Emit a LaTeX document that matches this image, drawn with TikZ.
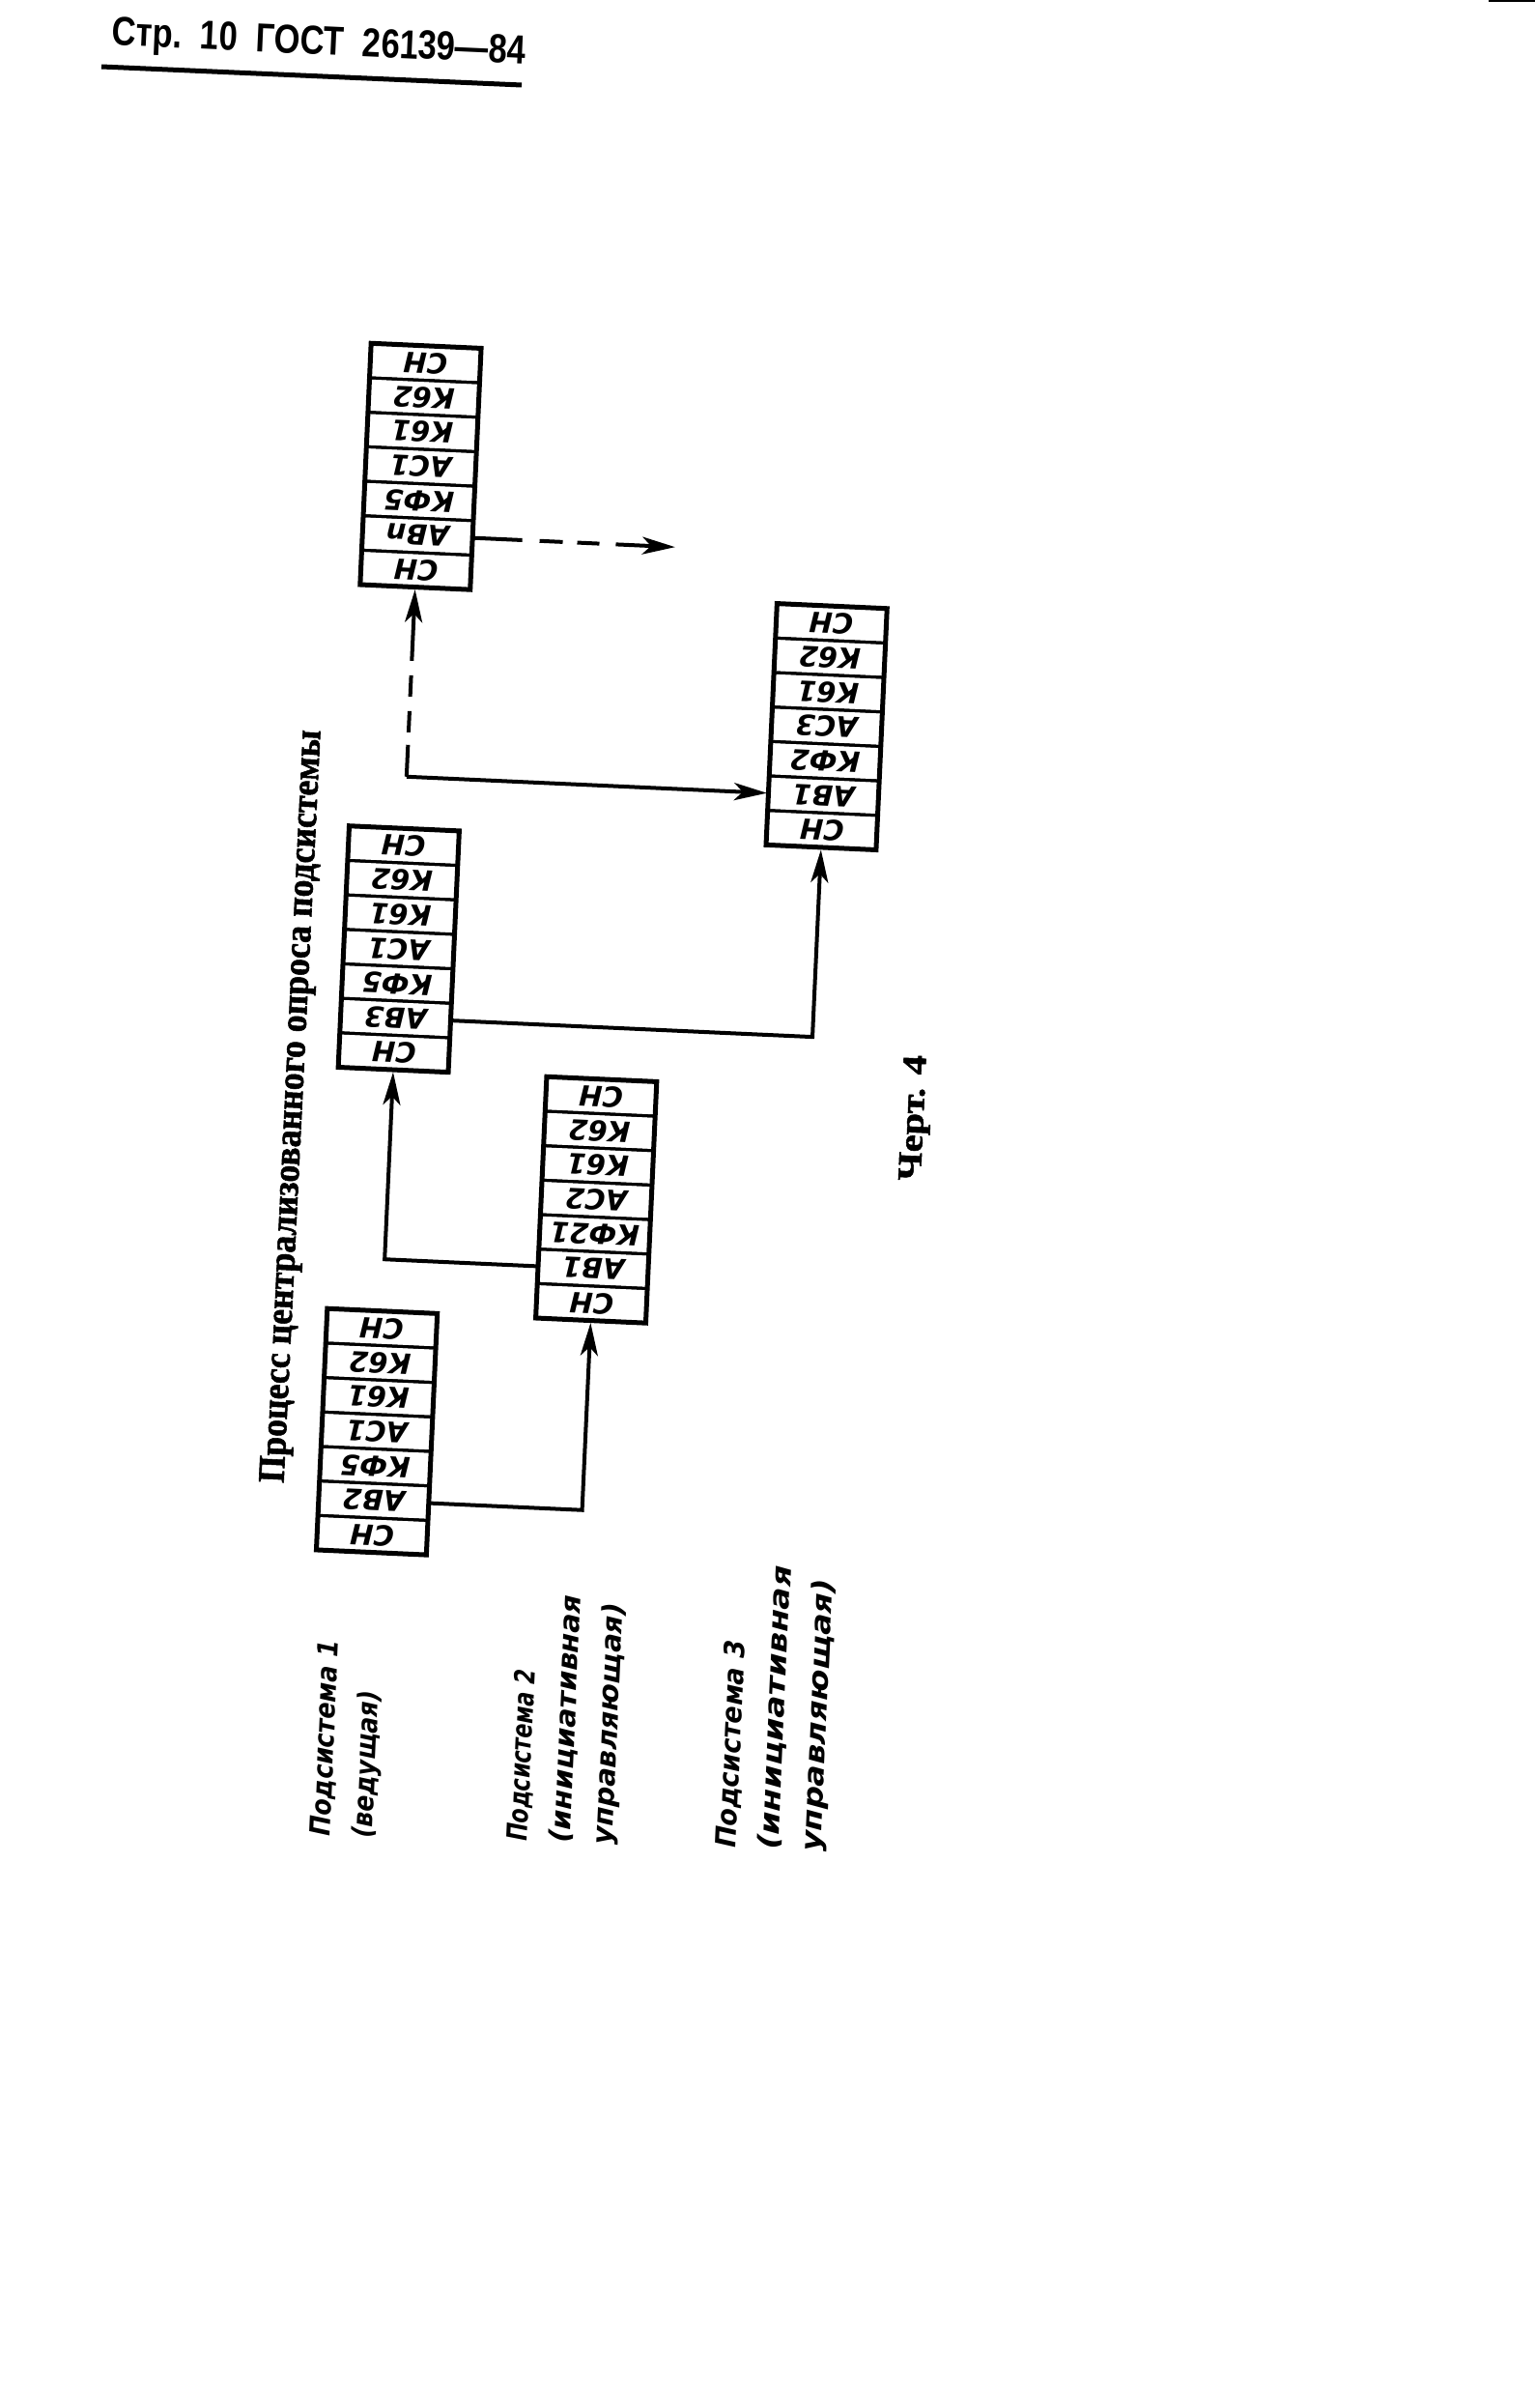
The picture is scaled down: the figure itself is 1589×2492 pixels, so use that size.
\documentclass[tikz,border=0pt]{standalone}
\usepackage{fontspec}
\usepackage{graphicx}
\usetikzlibrary{arrows.meta}
\newfontfamily\gostfont{DejaVu Sans}
\newfontfamily\titlefont{Liberation Serif}[BoldFeatures={FakeBold=1.5}]
\newfontfamily\headfont{Liberation Sans}
\newcommand\mkbox[4]{%
  \foreach \t [count=\i] in {#4} {
    \node[cellnode] (#1-\i) at ({#2+57},{#3+(\i-0.5)*250/7}) {\rotatebox[origin=c]{180}{\t}};
  }
  \node[boxframe] (#1) at ({#2+57},{#3+125}) {};
}
\newcommand\fitw[2]{\resizebox{#1pt}{\height}{#2}}
\begin{document}
\begin{tikzpicture}[x=1pt,y=-1pt,
  cellnode/.style={draw, line width=3pt, minimum width=114pt, minimum height=35.714pt, inner sep=0pt,
     font=\gostfont\bfseries\itshape\fontsize{29}{29}\selectfont},
  boxframe/.style={draw, line width=5pt, minimum width=114pt, minimum height=250pt, inner sep=0pt},
  conn/.style={line width=4pt, -{Stealth[length=34pt,width=18pt,inset=9pt]}},
  lbl/.style={font=\gostfont\bfseries\itshape\fontsize{29}{44}\selectfont, align=left, anchor=north west,
     inner sep=0pt, rotate=87.4},
]
\fill[white] (0,0) rectangle (1589,2492);
\useasboundingbox (0,0) rectangle (1589,2492);

% header
\node[rotate=-2.6, inner sep=0pt] (hdr) at (330,46)
  {\resizebox{429pt}{\height}{\headfont\bfseries\fontsize{42}{46}\selectfont Стр.\ \ 10\ \ ГОСТ\ \ 26139—84}};
\coordinate (ul1) at (105,69);
\coordinate (ul2) at (540,88);
\draw[line width=5pt] (ul1) -- (ul2);
\coordinate (ed1) at (1541,1);
\coordinate (ed2) at (1589,1);
\draw[line width=2pt] (ed1) -- (ed2);

% title and figure label
\node[rotate=87.2, inner sep=0pt] (title) at (304,1145)
  {\resizebox{780pt}{\height}{\titlefont\bfseries\fontsize{39}{44}\selectfont Процесс централизованного опроса подсистемы}};
\node[rotate=87.4, inner sep=0pt] (chert) at (948,1157)
  {\resizebox{130pt}{\height}{\titlefont\bfseries\fontsize{35}{38}\selectfont Черт. 4}};

% subsystem labels
\node[lbl] (s1) at (320,1900) {\fitw{203}{Подсистема 1}\\\fitw{153}{(ведущая)}};
\node[lbl] (s2) at (524,1905) {\fitw{178}{Подсистема 2}\\\fitw{257}{(инициативная}\\\fitw{251}{управляющая)}};
\node[lbl] (s3) at (740,1912) {\fitw{215}{Подсистема 3}\\\fitw{294}{(инициативная}\\\fitw{283}{управляющая)}};

\begin{scope}[rotate around={-2.6:(800,1250)}, transform shape]
  \mkbox{b1}{344}{1375}{СН,К62,К61,АС1,КФ5,АВ2,СН}
  \mkbox{b2}{560}{1125}{СН,К62,К61,АС2,КФ21,АВ1,СН}
  \mkbox{b3}{344}{875}{СН,К62,К61,АС1,КФ5,АВ3,СН}
  \mkbox{b4}{776}{625}{СН,К62,К61,АС3,КФ2,АВ1,СН}
  \mkbox{b5}{344}{375}{СН,К62,К61,АС1,КФ5,АВn,СН}
  \coordinate (k1) at (617,1571.43);
  \coordinate (k2) at (401,1321.43);
  \coordinate (k3) at (833,1071.43);
  \coordinate (k4) at (401,821.43);
  \coordinate (e5) at (668,571.43);
  \draw[conn] (b1-6.east) -- (k1) -- (b2.south);
  \draw[conn] (b2-6.west) -- (k2) -- (b3.south);
  \draw[conn] (b3-6.east) -- (k3) -- (b4.south);
  \draw[conn] (k4) -- (b4-6.west);
  \draw[conn, dash pattern=on 33pt off 13pt on 22pt off 15pt on 22pt off 15pt on 300pt] (k4) -- (b5.south);
  \draw[conn, dash pattern=on 50pt off 18pt on 24pt off 15pt on 23pt off 17pt on 300pt] (b5-6.east) -- (e5);
\end{scope}
\end{tikzpicture}
\end{document}
